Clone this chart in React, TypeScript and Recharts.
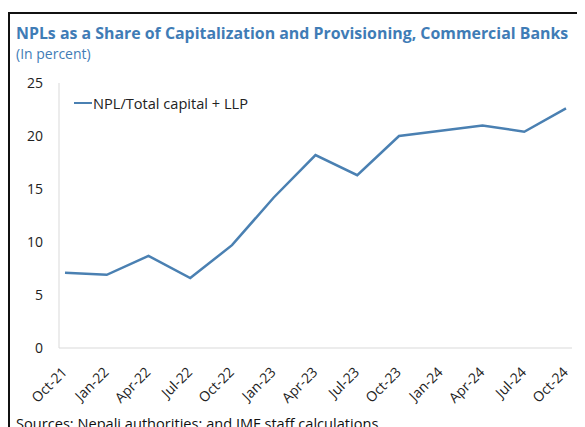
import React from 'react'
import { LineChart, Line, XAxis, YAxis, Legend } from 'recharts'

const quarters = [
  'Oct-21', 'Jan-22', 'Apr-22', 'Jul-22', 'Oct-22', 'Jan-23', 'Apr-23',
  'Jul-23', 'Oct-23', 'Jan-24', 'Apr-24', 'Jul-24', 'Oct-24',
]
const nplShare = [7.1, 6.9, 8.7, 6.6, 9.7, 14.2, 18.2, 16.3, 20.0, 20.5, 21.0, 20.4, 22.6]
const yTicks = [0, 5, 10, 15, 20, 25]

const SERIES_NAME = 'NPL/Total capital + LLP'
const LINE_COLOR = '#4a80b2'
const TITLE_COLOR = '#3f7cb6'
const FONT = '"Open Sans", "Noto Sans", sans-serif'

const data = quarters.map((q, i) => ({ quarter: q, npl: nplShare[i] }))

const AngledTick = (props: any) => {
  const { x, y, payload } = props
  return (
    <g transform={`translate(${x + 3},${y + 17})`}>
      <text
        x={0}
        y={0}
        textAnchor="end"
        transform="rotate(-45)"
        fontSize={14}
        fontFamily={FONT}
        fill="#222"
      >
        {payload.value}
      </text>
    </g>
  )
}

const LegendBox = () => (
  <div style={{ display: 'flex', alignItems: 'center', fontFamily: FONT, fontSize: 14.6, color: '#222', lineHeight: '20px' }}>
    <span style={{ display: 'inline-block', width: 18, height: 0, borderTop: `2.5px solid ${LINE_COLOR}`, marginRight: 1 }} />
    <span>{SERIES_NAME}</span>
  </div>
)

export default function App() {
  return (
    <div style={{ position: 'relative', width: 577, height: 419, overflow: 'hidden' }}>
      {/* outer frame, cut off at the right and bottom like the source */}
      <div
        style={{
          position: 'absolute', left: 0, top: 4, width: 620, height: 520,
          borderLeft: '2px solid #111', borderTop: '2px solid #111',
        }}
      />
      <div
        style={{
          position: 'absolute', left: 8, top: 15, fontFamily: FONT, fontWeight: 700,
          fontSize: 15.9, lineHeight: '20px', color: TITLE_COLOR, whiteSpace: 'nowrap',
        }}
      >
        NPLs as a Share of Capitalization and Provisioning, Commercial Banks
      </div>
      <div
        style={{
          position: 'absolute', left: 8, top: 36, fontFamily: FONT,
          fontSize: 14, lineHeight: '20px', color: TITLE_COLOR, whiteSpace: 'nowrap',
        }}
      >
        (In percent)
      </div>

      <div style={{ position: 'absolute', left: 0, top: 41 }}>
        <LineChart width={577} height={365} data={data} margin={{ top: 14, right: 13, bottom: 0, left: 0 }}>
          <XAxis
            dataKey="quarter"
            interval={0}
            padding={{ left: 6, right: 6 }}
            tickLine={false}
            axisLine={{ stroke: '#d9d9d9' }}
            tick={<AngledTick />}
            height={66}
          />
          <XAxis
            xAxisId="top"
            dataKey="quarter"
            orientation="top"
            tick={false}
            tickLine={false}
            axisLine={{ stroke: '#d9d9d9' }}
            height={0}
          />
          <YAxis
            domain={[0, 25]}
            ticks={yTicks}
            tickLine={false}
            axisLine={{ stroke: '#d9d9d9' }}
            tickMargin={10}
            width={51}
            tick={{ fontSize: 14, fontFamily: FONT, fill: '#222' }}
          />
          <YAxis
            yAxisId="right"
            orientation="right"
            tick={false}
            tickLine={false}
            axisLine={{ stroke: '#d9d9d9' }}
            width={0}
          />
          <Legend
            verticalAlign="top"
            align="left"
            content={<LegendBox />}
            wrapperStyle={{ position: 'absolute', left: 66, top: 44, width: 'auto' }}
          />
          <Line
            type="linear"
            dataKey="npl"
            name={SERIES_NAME}
            stroke={LINE_COLOR}
            strokeWidth={2.5}
            dot={false}
            activeDot={false}
            isAnimationActive={false}
          />
        </LineChart>
      </div>

      <div
        style={{
          position: 'absolute', left: 8, top: 405, fontFamily: FONT,
          fontSize: 14.6, lineHeight: '20px', color: '#111', whiteSpace: 'nowrap',
        }}
      >
        Sources: Nepali authorities; and IMF staff calculations.
      </div>
    </div>
  )
}
